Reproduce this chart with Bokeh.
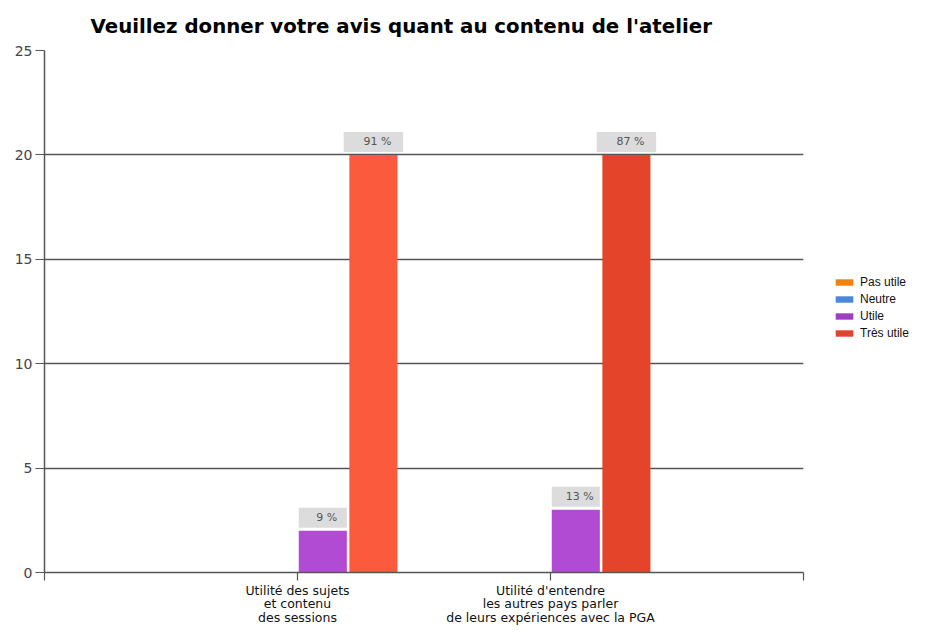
from bokeh.plotting import figure
from bokeh.models import Range1d, FixedTicker, Legend, LegendItem, ColumnDataSource
from bokeh.embed import file_html
from bokeh.resources import INLINE
from bokeh.core.properties import value

# ---- data ----
categories = [
    "Utilité des sujets\net contenu\ndes sessions",
    "Utilité d'entendre\nles autres pays parler\nde leurs expériences avec la PGA",
]
series = ["Pas utile", "Neutre", "Utile", "Très utile"]
pas_utile = [0, 0]
neutre = [0, 0]
utile = [2, 3]
tres_utile = [20, 20]
pct_utile = ["9 %", "13 %"]
pct_tres_utile = ["91 %", "87 %"]
y_ticks = [0, 5, 10, 15, 20, 25]
title_text = "Veuillez donner votre avis quant au contenu de l'atelier"

# ---- style ----
swatch_colors = ["#f0820f", "#4a87d6", "#9d3fc2", "#e2432e"]
bar_colors = {
    "Pas utile": ["#f0820f", "#f0820f"],
    "Neutre": ["#4a87d6", "#4a87d6"],
    "Utile": ["#b24bd3", "#b24bd3"],
    "Très utile": ["#fb5a3c", "#e4452a"],
}
GRID = "#555555"

LEFT, TOP, BOTTOM, RIGHT = 44, 50, 60, 148
FRAME_W, FRAME_H = 759, 522
y_max = 25
ppu = FRAME_H / y_max  # pixels per data unit on y

cat_x = [i + 1 for i in range(len(categories))]
slot = 0.2
bar_w = 0.19

p = figure(frame_width=FRAME_W, frame_height=FRAME_H, output_backend="svg", toolbar_location=None,
           x_range=Range1d(0, len(categories) + 1), y_range=Range1d(0, y_max),
           min_border_left=LEFT, min_border_right=RIGHT,
           min_border_top=TOP, min_border_bottom=BOTTOM)
p.outline_line_color = None
p.background_fill_color = "white"
p.border_fill_color = "white"

p.title.text = title_text
p.title.text_font = "DejaVu Sans"
p.title.text_font_size = "19.8px"
p.title.text_font_style = "bold"
p.title.text_color = "#000000"
p.title.align = "left"
p.title.offset = 46
p.title.standoff = 25

values = [pas_utile, neutre, utile, tres_utile]
for i, (name, vals) in enumerate(zip(series, values)):
    xs = [c + (i - 2) * slot + slot / 2 for c in cat_x]
    src = ColumnDataSource(dict(x=xs, top=vals, color=bar_colors[name]))
    p.vbar(x="x", top="top", bottom=0, width=bar_w, source=src,
           fill_color="color", line_color=None)

# legend swatches with series colours
legend_items = []
for i, name in enumerate(series):
    lr = p.vbar(x=[-10], top=[0], width=0.1, fill_color=swatch_colors[i], line_color=None)
    legend_items.append(LegendItem(label=name, renderers=[lr]))

# value label boxes
pad_px, box_px = 3, 20
for i, (vals, pcts, bw) in enumerate([(utile, pct_utile, bar_w), (tres_utile, pct_tres_utile, 0.235)]):
    si = i + 2
    xs = [c + (si - 2) * slot + slot / 2 for c in cat_x]
    bottoms = [v + pad_px / ppu for v in vals]
    tops = [v + (pad_px + box_px) / ppu for v in vals]
    mids = [v + (pad_px + box_px / 2) / ppu for v in vals]
    p.vbar(x=xs, bottom=bottoms, top=tops, width=bw, fill_color="#dcdcdc", line_color=None)
    p.text(x=xs, y=mids, text=pcts, text_align="center", text_baseline="middle",
           text_font=value("DejaVu Sans"), text_font_size="11px", text_color="#555555",
           x_offset=4)

# axes
p.xgrid.visible = False
p.ygrid.ticker = FixedTicker(ticks=y_ticks)
p.ygrid.grid_line_color = GRID
p.ygrid.grid_line_width = 1.4

p.yaxis.ticker = FixedTicker(ticks=y_ticks)
p.yaxis.axis_line_color = GRID
p.yaxis.axis_line_width = 1.5
p.yaxis.major_tick_line_color = GRID
p.yaxis.major_tick_line_width = 1.2
p.yaxis.major_tick_out = 9
p.yaxis.major_tick_in = 0
p.yaxis.minor_tick_line_color = None
p.yaxis.major_label_text_font = "DejaVu Sans"
p.yaxis.major_label_text_font_size = "14px"
p.yaxis.major_label_text_color = "#444444"
p.yaxis.major_label_standoff = 3

x_ticks = [0] + cat_x + [len(categories) + 1]
overrides = {t: "" for t in x_ticks}
for c, lab in zip(cat_x, categories):
    overrides[c] = lab
p.xaxis.ticker = FixedTicker(ticks=x_ticks)
p.xaxis.major_label_overrides = overrides
p.xaxis.axis_line_color = GRID
p.xaxis.axis_line_width = 1.5
p.xaxis.major_tick_line_color = GRID
p.xaxis.major_tick_line_width = 1.2
p.xaxis.major_tick_out = 8
p.xaxis.major_tick_in = 0
p.xaxis.minor_tick_line_color = None
p.xaxis.major_label_text_font = "DejaVu Sans"
p.xaxis.major_label_text_font_size = "12.5px"
p.xaxis.major_label_text_line_height = 0.92
p.xaxis.major_label_text_color = "#111111"
p.xaxis.major_label_standoff = 2

legend = Legend(items=legend_items, location=(30, 231))
legend.padding = 0
legend.margin = 0
legend.spacing = 1
legend.border_line_alpha = 0
legend.background_fill_alpha = 0
legend.glyph_width = 22
legend.glyph_height = 8
legend.label_height = 16
legend.label_standoff = 5
legend.label_text_font = "Liberation Sans"
legend.label_text_font_size = "12px"
legend.label_text_color = "#111111"
p.add_layout(legend, "right")

open("out.html", "w").write(file_html(p, INLINE))
